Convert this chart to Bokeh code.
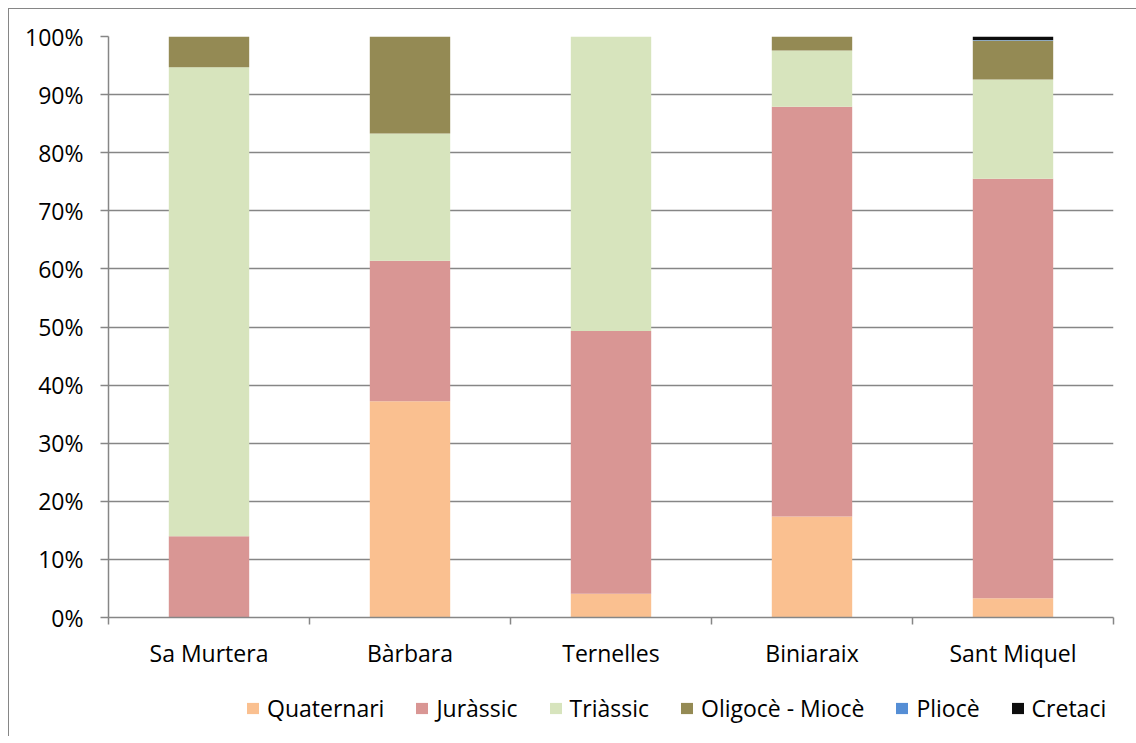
from bokeh.plotting import figure
from bokeh.layouts import column
from bokeh.models import Range1d, FixedTicker, Legend, LegendItem, ColumnDataSource
from bokeh.embed import file_html
from bokeh.resources import INLINE

categories = ["Sa Murtera", "Bàrbara", "Ternelles", "Biniaraix", "Sant Miquel"]
series = ["Quaternari", "Juràssic", "Triàssic", "Oligocè - Miocè", "Pliocè", "Cretaci"]
quaternari = [0.0, 37.2, 4.1, 17.4, 3.3]
jurassic = [14.0, 24.2, 45.2, 70.5, 72.2]
triassic = [80.7, 21.9, 50.7, 9.7, 17.1]
oligoce = [5.3, 16.7, 0.0, 2.4, 6.7]
pliocene = [0.0, 0.0, 0.0, 0.0, 0.1]
cretaci = [0.0, 0.0, 0.0, 0.0, 0.6]
y_ticks = [0, 10, 20, 30, 40, 50, 60, 70, 80, 90, 100]
y_tick_labels = ["0%", "10%", "20%", "30%", "40%", "50%", "60%", "70%", "80%", "90%", "100%"]

colors = ["#FAC090", "#D99694", "#D7E4BD", "#948A54", "#558ED5", "#0D0D0D"]
keys = ["q", "j", "t", "o", "p", "c"]

x_centers = [i + 0.5 for i in range(len(categories))]
source = ColumnDataSource(dict(x=x_centers, q=quaternari, j=jurassic, t=triassic,
                               o=oligoce, p=pliocene, c=cretaci))

FONT = "Open Sans"
GRID = "#868686"

p = figure(frame_width=1004, frame_height=580,
           x_range=Range1d(0, len(categories)), y_range=Range1d(0, 100),
           output_backend="svg", toolbar_location=None,
           min_border_left=99, min_border_top=27, min_border_right=24, min_border_bottom=60,
           margin=(8, 0, 0, 8))
p.styles = {"border-left": "1px solid #868686", "border-top": "1px solid #868686"}
p.outline_line_color = None
p.background_fill_color = "white"
p.border_fill_color = "white"

p.vbar_stack(keys, x="x", width=0.4, source=source, color=colors, line_color=None)

# y axis
p.yaxis.ticker = FixedTicker(ticks=y_ticks)
p.yaxis.major_label_overrides = {t: l for t, l in zip(y_ticks, y_tick_labels)}
p.yaxis.major_label_text_font = FONT
p.yaxis.major_label_text_font_size = "23px"
p.yaxis.major_label_text_color = "black"
p.yaxis.major_tick_out = 8
p.yaxis.major_tick_in = 0
p.yaxis.minor_tick_line_color = None
p.yaxis.major_label_standoff = 17
p.yaxis.axis_line_color = GRID
p.yaxis.axis_line_width = 1.5
p.yaxis.major_tick_line_color = GRID
p.yaxis.major_tick_line_width = 1.5

# x axis
p.xaxis.ticker = FixedTicker(ticks=x_centers, minor_ticks=list(range(len(categories) + 1)))
p.xaxis.major_label_overrides = {c: n for c, n in zip(x_centers, categories)}
p.xaxis.major_label_text_font = FONT
p.xaxis.major_label_text_font_size = "23px"
p.xaxis.major_label_text_color = "black"
p.xaxis.major_tick_line_color = None
p.xaxis.major_tick_out = 0
p.xaxis.major_tick_in = 0
p.xaxis.minor_tick_out = 7
p.xaxis.minor_tick_in = 0
p.xaxis.minor_tick_line_color = GRID
p.xaxis.minor_tick_line_width = 1.5
p.xaxis.major_label_standoff = 12
p.xaxis.axis_line_color = GRID
p.xaxis.axis_line_width = 1.5

p.xgrid.grid_line_color = None
p.ygrid.ticker = FixedTicker(ticks=y_ticks)
p.ygrid.grid_line_color = GRID
p.ygrid.grid_line_width = 1.5

# legend strip (separate figure, bars drawn out of its visible range)
p2 = figure(width=1127, height=60, x_range=Range1d(0, len(categories)),
            y_range=Range1d(1000, 1001), output_backend="svg", toolbar_location=None,
            x_axis_location=None, y_axis_location=None, min_border=0,
            margin=(0, 0, 0, 8))
p2.styles = {"border-left": "1px solid #868686"}
p2.outline_line_color = None
p2.xgrid.grid_line_color = None
p2.ygrid.grid_line_color = None
leg_renderers = p2.vbar_stack(keys, x="x", width=0.4, source=source, color=colors,
                              line_color=None)

legend = Legend(items=[LegendItem(label=s, renderers=[r]) for s, r in zip(series, leg_renderers)],
                orientation="horizontal", location=(137, 12),
                label_text_font=FONT, label_text_font_size="23px", label_text_color="black",
                glyph_width=15, glyph_height=14, label_standoff=7, spacing=30,
                padding=0, margin=0, border_line_color=None, background_fill_alpha=0)
p2.add_layout(legend, "center")

layout = column(p, p2, spacing=0)
open("out.html", "w").write(file_html(layout, INLINE))
